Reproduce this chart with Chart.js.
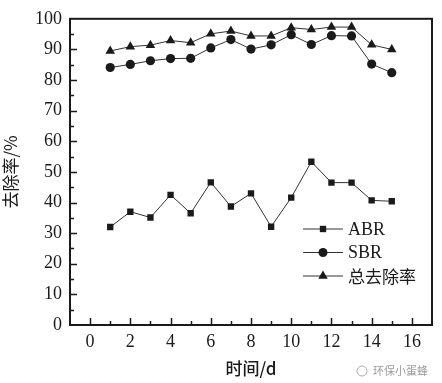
<!DOCTYPE html>
<html><head><meta charset="utf-8">
<script src="https://cdn.jsdelivr.net/npm/chart.js@4.4.0/dist/chart.umd.min.js"></script>
<style>html,body{margin:0;padding:0;background:#fff;}#wrap{width:442px;height:383px;}</style>
</head><body><div id="wrap"><canvas id="c" width="442" height="383"></canvas></div>
<script>
const days = [1,2,3,4,5,6,7,8,9,10,11,12,13,14,15];
const abr = [32.0,37.0,35.1,42.5,36.5,46.6,38.7,43.0,32.1,41.6,53.3,46.5,46.5,40.7,40.4];
const sbr = [84.1,85.1,86.3,87.0,87.1,90.5,93.2,90.1,91.5,94.8,91.6,94.5,94.4,85.2,82.4];
const total = [89.5,90.9,91.4,92.9,92.2,95.1,96.0,94.4,94.4,97.1,96.5,97.3,97.3,91.5,90.0];
const xTicks = [0,2,4,6,8,10,12,14,16];
const yTicks = [0,10,20,30,40,50,60,70,80,90,100];
const seriesNames = ['ABR','SBR','总去除率'];
const styles = ['rect','circle','triangle'];

const ink = '#1a1a1a';
const serif = '"Liberation Serif", "DejaVu Serif", serif';
const cjk = '"Noto Sans CJK SC", sans-serif';

function mk(data){ return days.map((d,i)=>({x:d,y:data[i]})); }

const frame = {
  id:'frame',
  afterDraw(chart){
    const {ctx, chartArea:a, scales:{x,y}} = chart;
    ctx.save();
    ctx.strokeStyle = ink;
    ctx.lineWidth = 2;
    ctx.strokeRect(a.left, a.top, a.right-a.left, a.bottom-a.top);
    ctx.lineWidth = 1.5;
    for(let v=0; v<=16; v++){
      const px = Math.round(x.getPixelForValue(v))+0.5;
      const len = v%2===0 ? 7 : 4;
      ctx.beginPath(); ctx.moveTo(px, a.bottom); ctx.lineTo(px, a.bottom-len); ctx.stroke();
    }
    for(let v=5; v<100; v+=5){
      const py = Math.round(y.getPixelForValue(v))+0.5;
      const len = v%10===0 ? 7 : 4;
      ctx.beginPath(); ctx.moveTo(a.left, py); ctx.lineTo(a.left+len, py); ctx.stroke();
    }
    // legend
    const lx = a.left + 233, ly0 = 229, dy = 23.5;
    chart.data.datasets.forEach((ds,i)=>{
      const yy = ly0 + i*dy;
      ctx.strokeStyle = '#333'; ctx.lineWidth = 1;
      ctx.beginPath(); ctx.moveTo(lx, yy); ctx.lineTo(lx+40, yy); ctx.stroke();
      ctx.fillStyle = ink;
      Chart.helpers.drawPoint(ctx, {pointStyle: styles[i], radius: i===2?5.5:4.5, borderWidth:0}, lx+20, yy);
      ctx.fillStyle = ink;
      ctx.font = i===2 ? ('17px ' + cjk) : ('18px ' + serif);
      ctx.textBaseline = 'middle'; ctx.textAlign = 'left';
      ctx.fillText(ds.label, lx+45, yy+1);
    });
    // watermark
    ctx.fillStyle = 'rgba(120,120,120,0.75)';
    ctx.font = '11px ' + cjk;
    ctx.fillText('环保小蛋蜂', 373, 371);
    ctx.strokeStyle = 'rgba(140,140,140,0.7)'; ctx.lineWidth = 1;
    ctx.beginPath(); ctx.arc(362, 371, 5, 0, Math.PI*2); ctx.stroke();
    ctx.restore();
  }
};

new Chart(document.getElementById('c'), {
  type:'line',
  data:{ datasets:[
    {label:seriesNames[0], data:mk(abr), pointStyle:styles[0], pointRadius:4.5},
    {label:seriesNames[1], data:mk(sbr), pointStyle:styles[1], pointRadius:4.6},
    {label:seriesNames[2], data:mk(total), pointStyle:styles[2], pointRadius:5.5}
  ].map(d=>Object.assign(d,{borderColor:'#333', borderWidth:1, backgroundColor:ink, pointBackgroundColor:ink, pointBorderWidth:0, tension:0}))},
  options:{
    responsive:false, animation:false, devicePixelRatio:1,
    layout:{padding:{top:8, right:10, left:0, bottom:0}},
    plugins:{legend:{display:false}, tooltip:{enabled:false}},
    scales:{
      x:{type:'linear', min:-1, max:17,
        afterBuildTicks(s){ s.ticks = xTicks.map(v=>({value:v})); },
        afterFit(s){ s.height = 58; },
        grid:{display:false, drawTicks:false}, border:{display:false},
        ticks:{color:ink, font:{family:serif, size:18}, padding:6, maxRotation:0, autoSkip:false},
        title:{display:true, text:'时间/d', color:ink, font:{family:cjk, size:17, weight:'500'}, padding:{top:0,bottom:4}}
      },
      y:{type:'linear', min:0, max:100,
        afterBuildTicks(s){ s.ticks = yTicks.map(v=>({value:v})); },
        afterFit(s){ s.width = 70; },
        grid:{display:false, drawTicks:false}, border:{display:false},
        ticks:{color:ink, font:{family:serif, size:18}, padding:8, autoSkip:false},
        title:{display:true, text:'去除率/%', color:ink, font:{family:cjk, size:17, weight:'normal'}, padding:{top:0,bottom:4}}
      }
    }
  },
  plugins:[frame]
});
</script></body></html>
